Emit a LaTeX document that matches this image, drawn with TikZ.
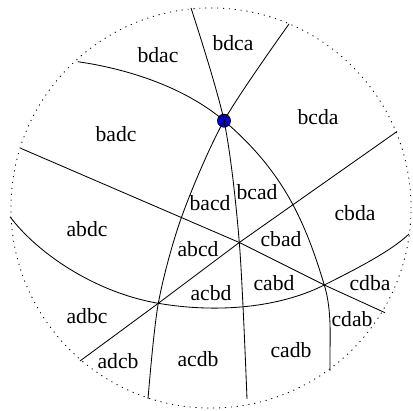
\documentclass[tikz,border=0pt]{standalone}
\usepackage{fontspec}
\setmainfont{Liberation Serif}
\usepackage{tikz}
\tikzset{
  rim/.style   = {draw=black, line width=0.6pt, dash pattern=on 0.8pt off 3.4pt},
  wall/.style  = {draw=black, line width=0.6pt},
  perm/.style  = {font=\fontsize{15.4}{18}\selectfont, inner sep=0pt},
  base/.style  = {draw=black, fill=blue, line width=0.6pt},
}

\begin{document}
\begin{tikzpicture}[x=0.025cm,y=-0.025cm]
  \useasboundingbox (0,0) rectangle (413,411);
  % ----- sphere -----
  \coordinate (o) at (211,208);
  \draw[rim] (o) circle[radius=5cm];

  % ----- triple points -----
  \coordinate (ptop) at (224,120.7);
  \coordinate (pmid) at (239.3,242.5);
  \coordinate (plft) at (158.3,303.3);
  \coordinate (prgt) at (324.3,285);
  \fill[base] (ptop) circle[radius=4.6pt];

  % ----- walls -----
  \draw[wall] (77.7,61.7) .. controls (126.7,68.7) and (184,86.7) .. (ptop)
              .. controls (284.8,172.7) and (305.7,223.6) .. (prgt)
              .. controls (332.7,312.8) and (329.4,342) .. (330,371);
  \draw[wall] plot[smooth] coordinates {(191,8) (ptop) (pmid) (247,399)};
  \draw[wall] plot[smooth] coordinates {(289,24) (ptop) (181.7,216.7) (plft) (148,399)};
  \draw[wall] (20.7,148.3) -- (pmid) -- (prgt) -- (385,312.7);
  \draw[wall] (397,131.5) -- (pmid) -- (plft) -- (80,361);
  \draw[wall] (10,216.7) .. controls (37,252.7) and (94.2,292.3) .. (plft)
              .. controls (217.5,313.5) and (279.8,307.5) .. (prgt)
              .. controls (355.5,269.3) and (391,251.3) .. (409,234);

  % ----- chambers -----
  \foreach \t/\x/\y in {bdca/233/43, bdac/158/55, bcda/318/117, badc/116/134,
                        bacd/210/203, bcad/257/192, cbda/355/213, abdc/87/229,
                        abcd/198/249, cbad/281/239, cabd/274/283, cdba/370/283,
                        acbd/211/293, adbc/87/316, cdab/352/319, adcb/118/361,
                        acdb/198/359, cadb/291/350}
  {
    \node[perm] (\t) at (\x,\y) {\t};
  }
\end{tikzpicture}
\end{document}
